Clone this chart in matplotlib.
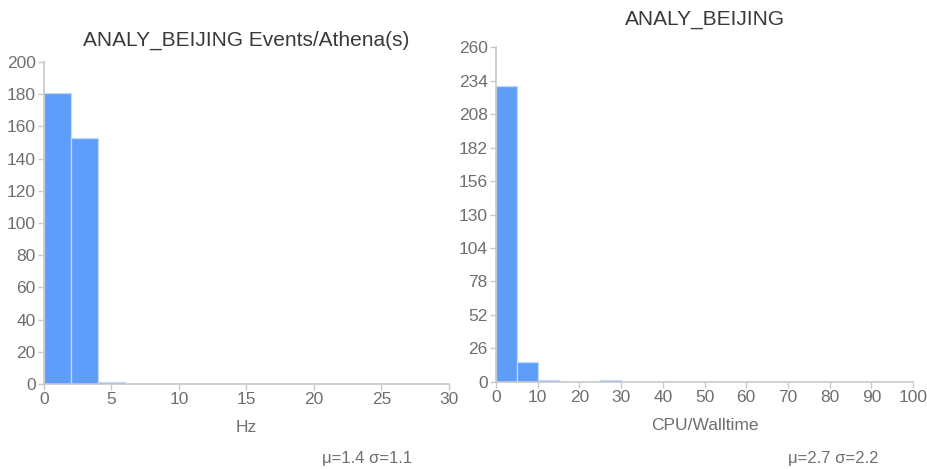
import numpy as np
import matplotlib.pyplot as plt

plt.rcParams['font.family'] = ['Liberation Sans', 'DejaVu Sans']

# Events/Athena(s) histogram, bin width 2 Hz
hz_edges = [0, 2, 4, 6]
hz_counts = [181, 153, 1]
hz_stats = 'μ=1.4 σ=1.1'

# CPU/Walltime histogram, bin width 5
cpu_edges = [0, 5, 10, 15, 20, 25, 30]
cpu_counts = [230, 15, 1, 0, 0, 1]
cpu_stats = 'μ=2.7 σ=2.2'

BAR = '#5f9dfb'
EDGE = '#c4dafc'
AXIS = '#c8c8c8'
TEXT = '#6f6f6f'
TITLE = '#3a3a3a'


def style_axes(ax):
    for side in ['top', 'right']:
        ax.spines[side].set_visible(False)
    for side in ['left', 'bottom']:
        ax.spines[side].set_color(AXIS)
        ax.spines[side].set_linewidth(1.2)
    ax.tick_params(colors=AXIS, labelcolor=TEXT, labelsize=12.5, length=4, width=1,
                   direction='out', pad=2)


def draw_hist(ax, edges, counts):
    edges = np.array(edges)
    ax.bar(edges[:-1], counts, width=np.diff(edges), align='edge',
           color=BAR, edgecolor=EDGE, linewidth=0.9)


fig = plt.figure(figsize=(9.28, 4.69), dpi=100)

ax1 = fig.add_axes([0.0474, 0.1812, 0.4364, 0.6866])
draw_hist(ax1, hz_edges, hz_counts)
ax1.set_xlim(0, 30)
ax1.set_ylim(0, 200)
ax1.set_xticks(np.arange(0, 31, 5))
ax1.set_yticks(np.arange(0, 201, 20))
style_axes(ax1)
ax1.set_xlabel('Hz', color=TEXT, fontsize=12.5, labelpad=9)
ax1.set_title('ANALY_BEIJING Events/Athena(s)', color=TITLE, fontsize=15, pad=12)
fig.text(367 / 928, 1 - 458 / 469, hz_stats, color=TEXT, fontsize=12,
         ha='center', va='center')

ax2 = fig.add_axes([0.5345, 0.1861, 0.4494, 0.713])
draw_hist(ax2, cpu_edges, cpu_counts)
ax2.set_xlim(0, 100)
ax2.set_ylim(0, 260)
ax2.set_xticks(np.arange(0, 101, 10))
ax2.set_yticks(np.arange(0, 261, 26))
style_axes(ax2)
ax2.set_xlabel('CPU/Walltime', color=TEXT, fontsize=12.5, labelpad=9)
ax2.set_title('ANALY_BEIJING', color=TITLE, fontsize=15, pad=16)
fig.text(833 / 928, 1 - 458 / 469, cpu_stats, color=TEXT, fontsize=12,
         ha='center', va='center')

fig.savefig('out.png', dpi=100)
